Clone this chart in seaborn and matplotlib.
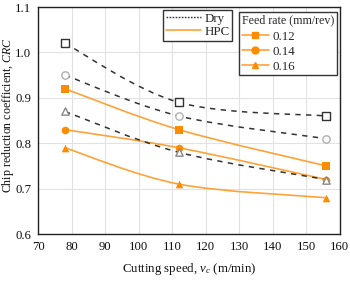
import matplotlib
matplotlib.use("Agg")
import matplotlib.pyplot as plt
from matplotlib.lines import Line2D
from matplotlib.path import Path
from matplotlib.patches import PathPatch
import seaborn as sns
import numpy as np
import pandas as pd

speeds = [78, 112, 156]
feed_rates = ["0.12", "0.14", "0.16"]
dry_crc = {"0.12": [1.02, 0.89, 0.86],
           "0.14": [0.95, 0.86, 0.81],
           "0.16": [0.87, 0.78, 0.72]}
hpc_crc = {"0.12": [0.92, 0.83, 0.75],
           "0.14": [0.83, 0.79, 0.72],
           "0.16": [0.79, 0.71, 0.68]}

rows = []
for cond, d in (("Dry", dry_crc), ("HPC", hpc_crc)):
    for f in feed_rates:
        for v, c in zip(speeds, d[f]):
            rows.append({"cond": cond, "feed": f, "v": v, "crc": c})
df = pd.DataFrame(rows)

sns.set_theme(style="whitegrid")
plt.rcParams["font.family"] = ["Liberation Serif", "DejaVu Serif"]
plt.rcParams["mathtext.fontset"] = "custom"
plt.rcParams["mathtext.rm"] = "Liberation Serif"
plt.rcParams["mathtext.it"] = "Liberation Serif:italic"

fig = plt.figure(figsize=(3.5, 2.81), dpi=100)
ax = fig.add_axes([0.109, 0.167, 0.862, 0.808])


def smooth_path(xs, ys):
    """Smoothed line through the data points (Bezier, like a spreadsheet 'smoothed line')."""
    P = np.column_stack([xs, ys]).astype(float)
    n = len(P)
    verts = [P[0]]
    codes = [Path.MOVETO]
    for i in range(n - 1):
        prev = P[i - 1] if i > 0 else P[i]
        nxt = P[i + 2] if i + 2 < n else P[i + 1]
        c1 = P[i] + (P[i + 1] - prev) / 6.0
        c2 = P[i + 1] - (nxt - P[i]) / 6.0
        verts += [c1, c2, P[i + 1]]
        codes += [Path.CURVE4] * 3
    return Path(verts, codes)


markers = {"0.12": "s", "0.14": "o", "0.16": "^"}
dry_edges = {"0.12": "#333333", "0.14": "#b0b0b0", "0.16": "#888888"}
orange_line = "#FFA238"
orange_mk = "#FF8C00"
dark = "#333333"

for f in feed_rates:
    sub = df[(df.cond == "Dry") & (df.feed == f)]
    ax.add_patch(PathPatch(smooth_path(sub.v, sub.crc), fill=False, edgecolor=dark,
                           lw=1.1, ls=(0, (3.5, 3.5)), zorder=3))
    sns.scatterplot(data=sub, x="v", y="crc", marker=markers[f], s=28, facecolor="white",
                    edgecolor=dry_edges[f], linewidth=1.0, zorder=4, ax=ax, legend=False)
    sub = df[(df.cond == "HPC") & (df.feed == f)]
    ax.add_patch(PathPatch(smooth_path(sub.v, sub.crc), fill=False, edgecolor=orange_line,
                           lw=1.2, zorder=3))
    sns.scatterplot(data=sub, x="v", y="crc", marker=markers[f], s=30, color=orange_mk,
                    linewidth=0, zorder=4, ax=ax, legend=False)

ax.set_xlim(70, 160)
ax.set_ylim(0.6, 1.1)
ax.set_xticks(range(70, 161, 10))
ax.set_yticks([0.6, 0.7, 0.8, 0.9, 1.0, 1.1])
ax.set_yticklabels(["0.6", "0.7", "0.8", "0.9", "1.0", "1.1"])
ax.grid(True, color="#e2e2e2", lw=0.8)
for s in ax.spines.values():
    s.set_color("#222222")
    s.set_linewidth(1.0)
ax.tick_params(axis="both", direction="out", length=3, width=0.8, color="#222222",
               labelsize=9.2, pad=2, labelcolor="#111111")
ax.set_xlabel("Cutting speed, $v_c$ (m/min)", fontsize=9.3, labelpad=6, color="#111111")
ax.set_ylabel("Chip reduction coefficient, $CRC$", fontsize=8.6, color="#111111",
              va="center", ha="center")
ax.yaxis.set_label_coords(-0.099, 0.525)

h1 = [Line2D([], [], color=dark, lw=1.0, ls=(0, (1.2, 1.0))),
      Line2D([], [], color=orange_line, lw=1.2)]
leg1 = ax.legend(h1, ["Dry", "HPC"], loc="upper left", bbox_to_anchor=(0.414, 0.987),
                 fontsize=9.3, frameon=True, fancybox=False, edgecolor="#333333",
                 framealpha=1, handlelength=2.7, handletextpad=0.3, borderpad=0.2,
                 labelspacing=0.1, borderaxespad=0)
leg1.get_frame().set_linewidth(1.0)
ax.add_artist(leg1)

h2 = [Line2D([], [], color=orange_line, lw=1.2, marker=markers[f], markersize=5,
             markerfacecolor=orange_mk, markeredgecolor=orange_mk) for f in feed_rates]
leg2 = ax.legend(h2, feed_rates, title="Feed rate (mm/rev)", loc="upper left",
                 bbox_to_anchor=(0.666, 0.978), fontsize=9.3, title_fontsize=8.6,
                 frameon=True, fancybox=False, edgecolor="#333333", framealpha=1,
                 handlelength=2.1, handletextpad=0.3, borderpad=0.2,
                 labelspacing=0.22, borderaxespad=0, alignment="left")
leg2.get_frame().set_linewidth(1.0)
leg2._legend_box.sep = 3

fig.savefig("out.png", dpi=100)
